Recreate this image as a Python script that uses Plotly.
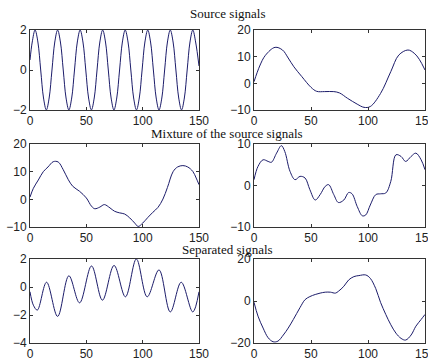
import plotly.graph_objects as go

# ---- data ----
src1_x = [0, 2, 4.5, 7, 9.5, 12, 14.5, 17, 19.5, 22, 24.5, 27, 29.5, 32, 34.5, 37, 39.5, 42, 44.5, 47,
          49.5, 52, 54.5, 57, 59.5, 62, 64.5, 67, 69.5, 72, 74.5, 77, 79.5, 82, 84.5, 87, 89.5, 92, 94.5,
          97, 99.5, 102, 104.5, 107, 109.5, 112, 114.5, 117, 119.5, 122, 124.5, 127, 129.5, 132, 134.5,
          137, 139.5, 142, 144.5, 147, 150]
src1_y = [0.5, 1.4, 2, 1.4, 0, -1.4, -2, -1.4, 0, 1.4, 2, 1.4, 0, -1.4, -2, -1.4, 0, 1.4, 2, 1.4,
          0, -1.4, -2, -1.4, 0, 1.4, 2, 1.4, 0, -1.4, -2, -1.4, 0, 1.4, 2, 1.4, 0, -1.4, -2,
          -1.4, 0, 1.4, 2, 1.4, 0, -1.4, -2, -1.4, 0, 1.4, 2, 1.4, 0, -1.4, -2,
          -1.4, 0, 1.4, 2, 1.4, 0.2]

src2_x = [0, 5, 10, 18.5, 25, 30, 35, 42, 50, 55, 62, 70, 75, 82, 90.5, 96.5, 102, 111, 120, 127, 135, 140.5, 145, 150]
src2_y = [0.6, 6.5, 10.5, 13.5, 12.5, 9.5, 6.2, 2.5, -1.5, -3.0, -3.1, -3.1, -3.6, -5.6, -7.8, -9.0, -8.7, -3.8, 4.4, 10.6, 12.5, 11.3, 9.0, 5.0]

mix1_x = [0, 3, 7.4, 11.8, 16, 20.6, 25, 29.5, 34, 38, 44, 50, 54.6, 57.5, 62, 66, 71, 75, 79.6, 84, 88.5,
          93, 96, 100, 104.7, 109, 113.6, 118, 122, 127, 131, 135.7, 140, 144.5, 147.5, 150]
mix1_y = [0.8, 4, 7, 10, 11.7, 13.6, 13.5, 10.7, 7.1, 4.7, 2.9, 0.5, -2.5, -3.4, -2.8, -1.9, -3.1, -4.3, -4.9, -5.3, -6.7,
          -8.6, -9.8, -8.6, -6.5, -4.7, -2.9, 0.1, 4.3, 10, 11.7, 12.2, 11.7, 10.1, 7.7, 5.3]

mix2_x = [0, 3.5, 8, 12.4, 15.3, 19.8, 24, 27, 31.6, 36, 40.4, 44.8, 49, 53.7, 58, 62.5, 65.5, 70, 74, 78.8, 83, 86,
          90.6, 95, 98, 102, 106.8, 111, 115.6, 120, 124.5, 129, 133, 137.8, 142, 146.6, 150]
mix2_y = [1.4, 4.6, 6.2, 5.8, 5.6, 7.8, 9.6, 8.2, 3.4, 1.4, 2.2, 1.8, -1.0, -3.5, -2.2, -0.2, 0.2, -2.2, -4.1, -3.5, -1.7, -2.0,
          -5.1, -7.3, -7.1, -4.7, -2.2, -2.0, -1.8, 1.0, 7.4, 7.0, 5.8, 7.0, 7.8, 6.2, 3.8]

sep1_x = [0, 3, 6.5, 14.7, 24.5, 34.5, 44, 54.6, 64.3, 74.6, 84.7, 94.4, 104, 114.5, 124.5, 134.2, 144.5, 150]
sep1_y = [-0.34, -1.3, -1.65, 0.34, -2.1, 0.8, -1.13, 1.5, -0.94, 1.54, -0.7, 2.0, -0.7, 1.22, -1.78, 0.34, -1.78, -0.34]

sep2_x = [0, 3.5, 8, 12.4, 16.8, 21, 25.7, 30, 34.5, 40.4, 44.8, 49, 53.7, 58, 62.5, 67, 71.4, 74, 78.8, 83, 87.6,
          92, 98, 102, 106.8, 111, 115.6, 120, 124.5, 129, 133, 137.8, 142, 146.6, 150]
sep2_y = [-0.6, -7.2, -12.9, -17.5, -19.4, -19.1, -16.2, -12.9, -8.8, -3.1, 0.65, 2.1, 3.1, 3.75, 4.2, 4.2, 3.75, 4.6, 7.0, 10.0, 11.6,
          12.1, 12.4, 10.8, 5.9, -0.65, -6.4, -11.3, -15.3, -17.8, -18.6, -16.2, -12.0, -8.8, -6.4]

x_ticks = [0, 50, 100, 150]
y_ranges = [[-2, 2], [-10, 20], [-10, 20], [-10, 10], [-4, 2], [-20, 20]]
y_ticks = [[-2, 0, 2], [-10, 0, 10, 20], [-10, 0, 10, 20], [-10, 0, 10], [-4, -2, 0, 2], [-20, 0, 20]]
titles = ["Source signals", "Mixture of the source signals", "Separated signals"]

series = [(src1_x, src1_y), (src2_x, src2_y), (mix1_x, mix1_y), (mix2_x, mix2_y), (sep1_x, sep1_y), (sep2_x, sep2_y)]

W, H = 428, 360
x_doms = [[30 / W, 199 / W], [254 / W, 425 / W]]
y_doms = [[1 - 110 / H, 1 - 30 / H], [1 - 227 / H, 1 - 144 / H], [1 - 343 / H, 1 - 259 / H]]
title_y = [14, 133, 249]

line_color = "#1c1c6a"
fig = go.Figure()
layout = dict(width=W, height=H, autosize=False, margin=dict(l=0, r=0, t=0, b=0, pad=0, autoexpand=False),
              paper_bgcolor="white", plot_bgcolor="white", showlegend=False)

for i, (xs, ys) in enumerate(series):
    n = i + 1
    xa = "x" if n == 1 else f"x{n}"
    ya = "y" if n == 1 else f"y{n}"
    fig.add_trace(go.Scatter(x=xs, y=ys, mode="lines", xaxis=xa, yaxis=ya,
                             line=dict(color=line_color, width=1, shape="spline", smoothing=1.0),
                             hoverinfo="skip"))
    row, col = i // 2, i % 2
    axcommon = dict(showline=True, linecolor="#333333", linewidth=1, mirror="allticks",
                    ticks="inside", ticklen=3, tickcolor="#333333", showgrid=False, zeroline=False,
                    automargin=False, ticklabeloverflow="allow",
                    tickfont=dict(family="Liberation Sans, Arial, sans-serif", size=12, color="#222222"))
    layout["xaxis" if n == 1 else f"xaxis{n}"] = dict(domain=x_doms[col], range=[0, 150], tickvals=x_ticks,
                                                      anchor=ya, **axcommon)
    layout["yaxis" if n == 1 else f"yaxis{n}"] = dict(domain=y_doms[row], range=y_ranges[i], tickvals=y_ticks[i],
                                                      anchor=xa, **axcommon)

annotations = []
for t, yp in zip(titles, title_y):
    annotations.append(dict(text=t, x=227 / W, y=1 - yp / H, xref="paper", yref="paper",
                            showarrow=False, xanchor="center", yanchor="middle",
                            font=dict(family="Liberation Serif, Times New Roman, serif", size=13, color="#111111")))
layout["annotations"] = annotations
fig.update_layout(**layout)
fig.write_html("out.html", config={"displayModeBar": False, "responsive": False},
               post_script="document.documentElement.style.overflow='hidden';document.body.style.margin='0';document.body.style.overflow='hidden';")
